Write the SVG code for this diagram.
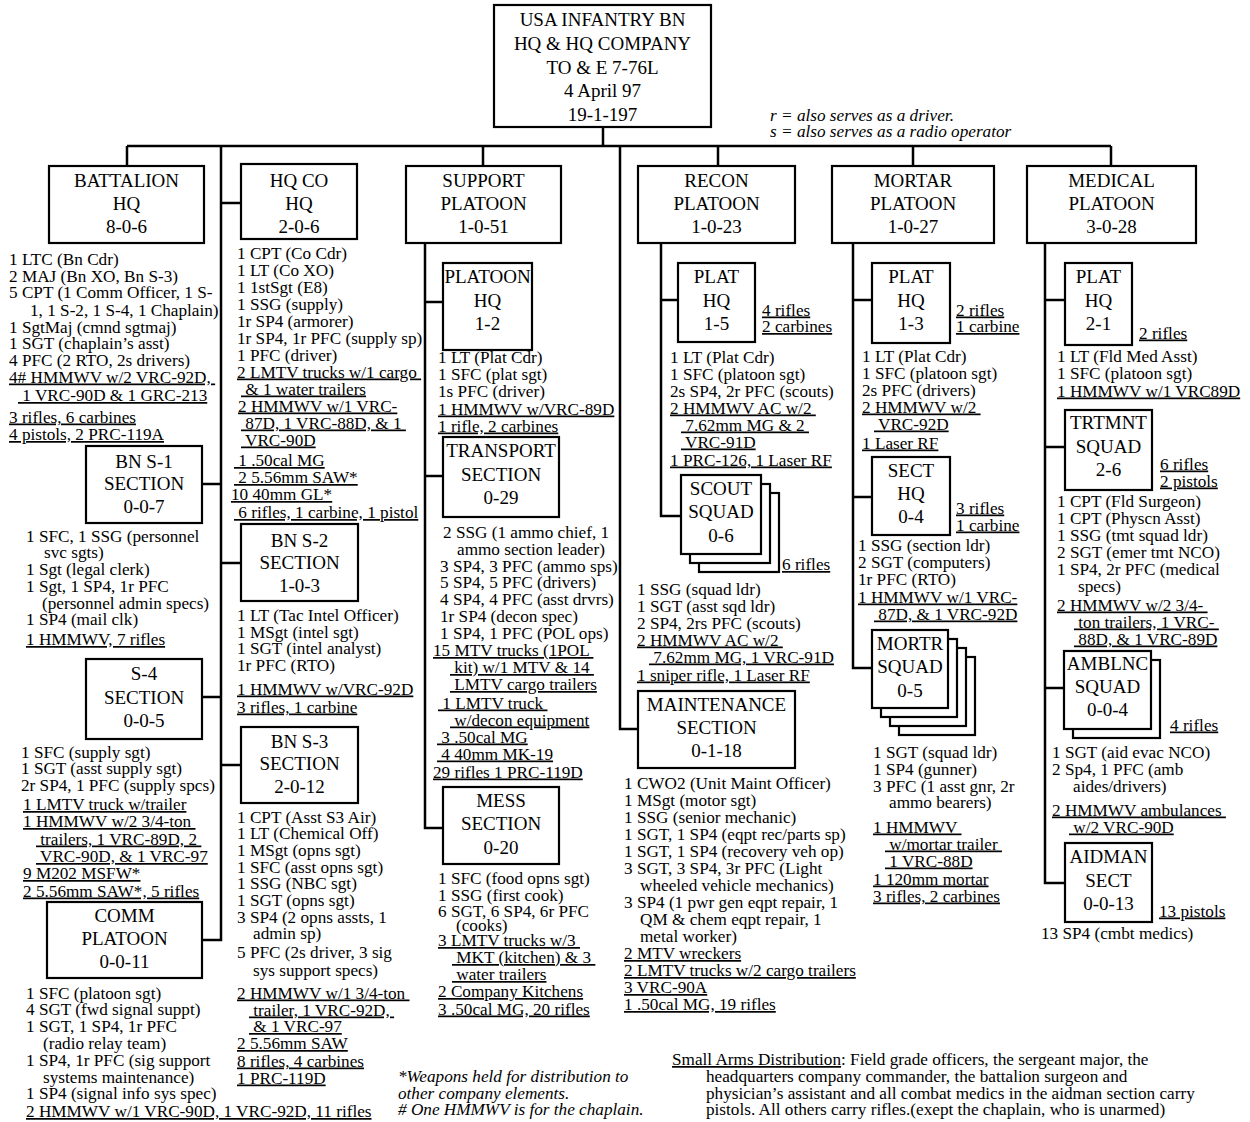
<svg xmlns="http://www.w3.org/2000/svg" width="1250" height="1122" viewBox="0 0 1250 1122">
<style>
text{font-family:"Liberation Serif","Times New Roman",serif;fill:#000}
.t{font-size:19px;text-anchor:middle}
.b{font-size:17.2px}
.u{text-decoration:underline}
.p{white-space:pre}
.i{font-size:17.2px;font-style:italic}
.n{font-size:17.2px}
.box{fill:#fff;stroke:#000;stroke-width:2.2}
.ln{fill:none;stroke:#000;stroke-width:2.5}
</style>
<rect width="1250" height="1122" fill="#fff"/>
<g id="connectors" class="ln">
<path d="M603 127V146M127 146H1111M127 146V166M221 146V940H202M221 203H241M202 484H221M221 563H241M202 697H221M221 765H241"/>
<path d="M483 146V166M425 243V828H443M425 302H443M425 476H443"/>
<path d="M620 146V729H638M718 146V166M661 243V516H681M661 300H678"/>
<path d="M913 146V166M853 243V668H872M853 300H872M853 497H872"/>
<path d="M1111 146V166M1045 243V883H1065M1045 300H1065M1045 447H1065M1045 688H1064"/>
</g>
<g id="top">
<rect class="box" x="494" y="5" width="217" height="122"/>
<text class="t" x="602.5" y="26">USA INFANTRY BN</text>
<text class="t" x="602.5" y="50">HQ &amp; HQ COMPANY</text>
<text class="t" x="602.5" y="73.5">TO &amp; E 7-76L</text>
<text class="t" x="602.5" y="97">4 April 97</text>
<text class="t" x="602.5" y="120.5">19-1-197</text>
</g>
<g id="legend">
<text class="i" x="770" y="121">r = also serves as a driver.</text>
<text class="i" x="770" y="137">s = also serves as a radio operator</text>
</g>
<g id="bn-hq">
<rect class="box" x="49" y="166" width="155" height="77"/>
<text class="t" x="126.5" y="187">BATTALION</text>
<text class="t" x="126.5" y="210">HQ</text>
<text class="t" x="126.5" y="233">8-0-6</text>
<text class="b" x="9" y="265">1 LTC (Bn Cdr)</text>
<text class="b" x="9" y="281.5">2 MAJ (Bn XO, Bn S-3)</text>
<text class="b" x="9" y="298">5 CPT (1 Comm Officer, 1 S-</text>
<text class="b" x="30" y="316">1, 1 S-2, 1 S-4, 1 Chaplain)</text>
<text class="b" x="9" y="332.5">1 SgtMaj (cmnd sgtmaj)</text>
<text class="b" x="9" y="349">1 SGT (chaplain’s asst)</text>
<text class="b" x="9" y="365.5">4 PFC (2 RTO, 2s drivers)</text>
<text class="b u p" x="9" y="382.5">4# HMMWV w/2 VRC-92D, </text>
<text class="b u p" x="18" y="401"> 1 VRC-90D &amp; 1 GRC-213</text>
<text class="b u" x="9" y="422.5">3 rifles, 6 carbines</text>
<text class="b u" x="9" y="440">4 pistols, 2 PRC-119A</text>
</g>
<g id="bn-s1">
<rect class="box" x="86" y="446" width="116" height="77"/>
<text class="t" x="144" y="467.5">BN S-1</text>
<text class="t" x="144" y="490">SECTION</text>
<text class="t" x="144" y="513">0-0-7</text>
<text class="b" x="26" y="541.5">1 SFC, 1 SSG (personnel</text>
<text class="b" x="44" y="558">svc sgts)</text>
<text class="b" x="26" y="575">1 Sgt (legal clerk)</text>
<text class="b" x="26" y="591.5">1 Sgt, 1 SP4, 1r PFC</text>
<text class="b" x="42" y="608.5">(personnel admin specs)</text>
<text class="b" x="26" y="625">1 SP4 (mail clk)</text>
<text class="b u" x="26" y="645">1 HMMWV, 7 rifles</text>
</g>
<g id="s4">
<rect class="box" x="86" y="659" width="116" height="80"/>
<text class="t" x="144" y="680">S-4</text>
<text class="t" x="144" y="703.5">SECTION</text>
<text class="t" x="144" y="727">0-0-5</text>
<text class="b" x="21" y="757.5">1 SFC (supply sgt)</text>
<text class="b" x="21" y="774">1 SGT (asst supply sgt)</text>
<text class="b" x="21" y="790.5">2r SP4, 1 PFC (supply spcs)</text>
<text class="b u" x="23" y="810">1 LMTV truck w/trailer</text>
<text class="b u p" x="23" y="827">1 HMMWV w/2 3/4-ton </text>
<text class="b u p" x="36" y="844.5"> trailers, 1 VRC-89D, 2 </text>
<text class="b u p" x="36" y="862"> VRC-90D, &amp; 1 VRC-97</text>
<text class="b u" x="23" y="879">9 M202 MSFW*</text>
<text class="b u" x="23" y="896.5">2 5.56mm SAW*, 5 rifles</text>
</g>
<g id="comm">
<rect class="box" x="47" y="902" width="155" height="76"/>
<text class="t" x="124.5" y="922">COMM</text>
<text class="t" x="124.5" y="944.5">PLATOON</text>
<text class="t" x="124.5" y="968">0-0-11</text>
<text class="b" x="26" y="998.5">1 SFC (platoon sgt)</text>
<text class="b" x="26" y="1015.3">4 SGT (fwd signal suppt)</text>
<text class="b" x="26" y="1032.1">1 SGT, 1 SP4, 1r PFC</text>
<text class="b" x="43" y="1048.9">(radio relay team)</text>
<text class="b" x="26" y="1065.7">1 SP4, 1r PFC (sig support</text>
<text class="b" x="43" y="1082.5">systems maintenance)</text>
<text class="b" x="26" y="1099.3">1 SP4 (signal info sys spec)</text>
<text class="b u" x="26" y="1117">2 HMMWV w/1 VRC-90D, 1 VRC-92D, 11 rifles</text>
</g>
<g id="hqco">
<rect class="box" x="241" y="164" width="116" height="75"/>
<text class="t" x="299" y="187">HQ CO</text>
<text class="t" x="299" y="209.5">HQ</text>
<text class="t" x="299" y="233">2-0-6</text>
<text class="b" x="237" y="258.5">1 CPT (Co Cdr)</text>
<text class="b" x="237" y="275.5">1 LT (Co XO)</text>
<text class="b" x="237" y="292.5">1 1stSgt (E8)</text>
<text class="b" x="237" y="309.5">1 SSG (supply)</text>
<text class="b" x="237" y="326.5">1r SP4 (armorer)</text>
<text class="b" x="237" y="343.5">1r SP4, 1r PFC (supply sp)</text>
<text class="b" x="237" y="360.5">1 PFC (driver)</text>
<text class="b u p" x="237" y="377.5">2 LMTV trucks w/1 cargo </text>
<text class="b u p" x="241" y="394.5"> &amp; 1 water trailers</text>
<text class="b u" x="238" y="411.5">2 HMMWV w/1 VRC-</text>
<text class="b u p" x="241" y="428.5"> 87D, 1 VRC-88D, &amp; 1 </text>
<text class="b u p" x="241" y="445.5"> VRC-90D</text>
<text class="b u p" x="234" y="466"> 1 .50cal MG</text>
<text class="b u p" x="234" y="483"> 2 5.56mm SAW*</text>
<text class="b u" x="231" y="500">10 40mm GL*</text>
<text class="b u p" x="234" y="518"> 6 rifles, 1 carbine, 1 pistol</text>
</g>
<g id="bn-s2">
<rect class="box" x="241" y="524" width="117" height="77"/>
<text class="t" x="299.5" y="546.5">BN S-2</text>
<text class="t" x="299.5" y="569">SECTION</text>
<text class="t" x="299.5" y="592">1-0-3</text>
<text class="b" x="237" y="620.5">1 LT (Tac Intel Officer)</text>
<text class="b" x="237" y="637.5">1 MSgt (intel sgt)</text>
<text class="b" x="237" y="654">1 SGT (intel analyst)</text>
<text class="b" x="237" y="671">1r PFC (RTO)</text>
<text class="b u" x="237" y="694.5">1 HMMWV w/VRC-92D</text>
<text class="b u" x="237" y="712.5">3 rifles, 1 carbine</text>
</g>
<g id="bn-s3">
<rect class="box" x="241" y="727" width="117" height="76"/>
<text class="t" x="299.5" y="747.5">BN S-3</text>
<text class="t" x="299.5" y="769.5">SECTION</text>
<text class="t" x="299.5" y="792.5">2-0-12</text>
<text class="b" x="237" y="822.5">1 CPT (Asst S3 Air)</text>
<text class="b" x="237" y="839">1 LT (Chemical Off)</text>
<text class="b" x="237" y="856">1 MSgt (opns sgt)</text>
<text class="b" x="237" y="872.5">1 SFC (asst opns sgt)</text>
<text class="b" x="237" y="889">1 SSG (NBC sgt)</text>
<text class="b" x="237" y="906">1 SGT (opns sgt)</text>
<text class="b" x="237" y="922.5">3 SP4 (2 opns assts, 1</text>
<text class="b" x="253" y="939">admin sp)</text>
<text class="b" x="237" y="958">5 PFC (2s driver, 3 sig</text>
<text class="b" x="253" y="975.5">sys support specs)</text>
<text class="b u p" x="237" y="998.5">2 HMMWV w/1 3/4-ton </text>
<text class="b u p" x="249" y="1015.5"> trailer, 1 VRC-92D, </text>
<text class="b u p" x="249" y="1032"> &amp; 1 VRC-97</text>
<text class="b u" x="237" y="1049">2 5.56mm SAW</text>
<text class="b u" x="237" y="1066.5">8 rifles, 4 carbines</text>
<text class="b u" x="237" y="1083.5">1 PRC-119D</text>
</g>
<g id="footnote">
<text class="i" x="398" y="1082">*Weapons held for distribution to</text>
<text class="i" x="398" y="1098.5">other company elements.</text>
<text class="i" x="398" y="1115"># One HMMWV is for the chaplain.</text>
</g>
<g id="support">
<rect class="box" x="406" y="166" width="155" height="77"/>
<text class="t" x="483.5" y="187">SUPPORT</text>
<text class="t" x="483.5" y="210">PLATOON</text>
<text class="t" x="483.5" y="233">1-0-51</text>
</g>
<g id="sup-hq">
<rect class="box" x="443" y="263" width="89" height="87"/>
<text class="t" x="487.5" y="282.5">PLATOON</text>
<text class="t" x="487.5" y="306.5">HQ</text>
<text class="t" x="487.5" y="329.5">1-2</text>
<text class="b" x="438" y="362.5">1 LT (Plat Cdr)</text>
<text class="b" x="438" y="379.5">1 SFC (plat sgt)</text>
<text class="b" x="438" y="396.5">1s PFC (driver)</text>
<text class="b u" x="438" y="414.5">1 HMMWV w/VRC-89D</text>
<text class="b u" x="438" y="431.5">1 rifle, 2 carbines</text>
</g>
<g id="transport">
<rect class="box" x="443" y="437" width="116" height="80"/>
<text class="t" x="501" y="456.5">TRANSPORT</text>
<text class="t" x="501" y="480.5">SECTION</text>
<text class="t" x="501" y="503.5">0-29</text>
<text class="b" x="443" y="537.5">2 SSG (1 ammo chief, 1</text>
<text class="b" x="457" y="554.5">ammo section leader)</text>
<text class="b" x="440" y="571.5">3 SP4, 3 PFC (ammo sps)</text>
<text class="b" x="440" y="588">5 SP4, 5 PFC (drivers)</text>
<text class="b" x="440" y="605">4 SP4, 4 PFC (asst drvrs)</text>
<text class="b" x="440" y="621.5">1r SP4 (decon spec)</text>
<text class="b" x="440" y="638.5">1 SP4, 1 PFC (POL ops)</text>
<text class="b u p" x="433" y="656">15 MTV trucks (1POL </text>
<text class="b u p" x="450" y="673"> kit) w/1 MTV &amp; 14 </text>
<text class="b u p" x="450" y="690"> LMTV cargo trailers</text>
<text class="b u p" x="438" y="708.5"> 1 LMTV truck </text>
<text class="b u p" x="450" y="725.5"> w/decon equipment</text>
<text class="b u p" x="437" y="742.5"> 3 .50cal MG</text>
<text class="b u p" x="437" y="759.5"> 4 40mm MK-19</text>
<text class="b u" x="433" y="777.5">29 rifles 1 PRC-119D</text>
</g>
<g id="mess">
<rect class="box" x="443" y="787" width="116" height="77"/>
<text class="t" x="501" y="806.5">MESS</text>
<text class="t" x="501" y="830">SECTION</text>
<text class="t" x="501" y="853.5">0-20</text>
<text class="b" x="438" y="884">1 SFC (food opns sgt)</text>
<text class="b" x="438" y="900.5">1 SSG (first cook)</text>
<text class="b" x="438" y="917">6 SGT, 6 SP4, 6r PFC</text>
<text class="b" x="456" y="931">(cooks)</text>
<text class="b u p" x="438" y="946">3 LMTV trucks w/3 </text>
<text class="b u p" x="452" y="963"> MKT (kitchen) &amp; 3 </text>
<text class="b u p" x="452" y="980"> water trailers</text>
<text class="b u" x="438" y="997">2 Company Kitchens</text>
<text class="b u" x="438" y="1014.5">3 .50cal MG, 20 rifles</text>
</g>
<g id="recon">
<rect class="box" x="638" y="166" width="157" height="77"/>
<text class="t" x="716.5" y="187">RECON</text>
<text class="t" x="716.5" y="210">PLATOON</text>
<text class="t" x="716.5" y="233">1-0-23</text>
</g>
<g id="recon-hq">
<rect class="box" x="678" y="263" width="77" height="79"/>
<text class="t" x="716.5" y="282.5">PLAT</text>
<text class="t" x="716.5" y="306.5">HQ</text>
<text class="t" x="716.5" y="329.5">1-5</text>
<text class="b u" x="762" y="315.5">4 rifles</text>
<text class="b u" x="762" y="332">2 carbines</text>
<text class="b" x="670" y="362.5">1 LT (Plat Cdr)</text>
<text class="b" x="670" y="379.5">1 SFC (platoon sgt)</text>
<text class="b" x="670" y="396.5">2s SP4, 2r PFC (scouts)</text>
<text class="b u p" x="670" y="413.5">2 HMMWV AC w/2 </text>
<text class="b u p" x="681" y="430.5"> 7.62mm MG &amp; 2 </text>
<text class="b u p" x="681" y="447.5"> VRC-91D</text>
<text class="b u" x="670" y="465.5">1 PRC-126, 1 Laser RF</text>
</g>
<g id="scout">
<rect class="box" x="699" y="493" width="80" height="79"/>
<rect class="box" x="690" y="484" width="80" height="79"/>
<rect class="box" x="681" y="475" width="80" height="79"/>
<text class="t" x="721" y="494.5">SCOUT</text>
<text class="t" x="721" y="518">SQUAD</text>
<text class="t" x="721" y="541.5">0-6</text>
<text class="b u" x="782" y="570">6 rifles</text>
<text class="b" x="637" y="594.5">1 SSG (squad ldr)</text>
<text class="b" x="637" y="611.5">1 SGT (asst sqd ldr)</text>
<text class="b" x="637" y="628.5">2 SP4, 2rs PFC (scouts)</text>
<text class="b u p" x="637" y="645.5">2 HMMWV AC w/2 </text>
<text class="b u p" x="649" y="662.5"> 7.62mm MG, 1 VRC-91D</text>
<text class="b u" x="637" y="680.5">1 sniper rifle, 1 Laser RF</text>
</g>
<g id="maint">
<rect class="box" x="638" y="691" width="157" height="77"/>
<text class="t" x="716.5" y="710.5">MAINTENANCE</text>
<text class="t" x="716.5" y="733.5">SECTION</text>
<text class="t" x="716.5" y="757">0-1-18</text>
<text class="b" x="624" y="788.5">1 CWO2 (Unit Maint Officer)</text>
<text class="b" x="624" y="805.5">1 MSgt (motor sgt)</text>
<text class="b" x="624" y="822.5">1 SSG (senior mechanic)</text>
<text class="b" x="624" y="839.5">1 SGT, 1 SP4 (eqpt rec/parts sp)</text>
<text class="b" x="624" y="856.5">1 SGT, 1 SP4 (recovery veh op)</text>
<text class="b" x="624" y="873.5">3 SGT, 3 SP4, 3r PFC (Light</text>
<text class="b" x="640" y="890.5">wheeled vehicle mechanics)</text>
<text class="b" x="624" y="907.5">3 SP4 (1 pwr gen eqpt repair, 1</text>
<text class="b" x="640" y="924.5">QM &amp; chem eqpt repair, 1</text>
<text class="b" x="640" y="941.5">metal worker)</text>
<text class="b u" x="624" y="959">2 MTV wreckers</text>
<text class="b u" x="624" y="976">2 LMTV trucks w/2 cargo trailers</text>
<text class="b u" x="624" y="993">3 VRC-90A</text>
<text class="b u" x="624" y="1010">1 .50cal MG, 19 rifles</text>
</g>
<g id="smallarms">
<text class="n" x="672" y="1065"><tspan text-decoration="underline">Small Arms Distribution</tspan>: Field grade officers, the sergeant major, the</text>
<text class="n" x="706" y="1082">headquarters company commander, the battalion surgeon and</text>
<text class="n" x="706" y="1098.5">physician’s assistant and all combat medics in the aidman section carry</text>
<text class="n" x="706" y="1115">pistols. All others carry rifles.(exept the chaplain, who is unarmed)</text>
</g>
<g id="mortar">
<rect class="box" x="832" y="166" width="162" height="77"/>
<text class="t" x="913" y="187">MORTAR</text>
<text class="t" x="913" y="210">PLATOON</text>
<text class="t" x="913" y="233">1-0-27</text>
</g>
<g id="mortar-hq">
<rect class="box" x="872" y="263" width="78" height="80"/>
<text class="t" x="911" y="282.5">PLAT</text>
<text class="t" x="911" y="306.5">HQ</text>
<text class="t" x="911" y="329.5">1-3</text>
<text class="b u" x="956" y="315.5">2 rifles</text>
<text class="b u" x="956" y="332">1 carbine</text>
<text class="b" x="862" y="361.5">1 LT (Plat Cdr)</text>
<text class="b" x="862" y="378.5">1 SFC (platoon sgt)</text>
<text class="b" x="862" y="395.5">2s PFC (drivers)</text>
<text class="b u p" x="862" y="412.5">2 HMMWV w/2 </text>
<text class="b u p" x="874" y="429.5"> VRC-92D</text>
<text class="b u" x="862" y="448.5">1 Laser RF</text>
</g>
<g id="sect-hq">
<rect class="box" x="872" y="457" width="78" height="78"/>
<text class="t" x="911" y="476.5">SECT</text>
<text class="t" x="911" y="499.5">HQ</text>
<text class="t" x="911" y="523">0-4</text>
<text class="b u" x="956" y="513.5">3 rifles</text>
<text class="b u" x="956" y="530.5">1 carbine</text>
<text class="b" x="858" y="550.5">1 SSG (section ldr)</text>
<text class="b" x="858" y="567.5">2 SGT (computers)</text>
<text class="b" x="858" y="584.5">1r PFC (RTO)</text>
<text class="b u" x="858" y="602.5">1 HMMWV w/1 VRC-</text>
<text class="b u p" x="874" y="619.5"> 87D, &amp; 1 VRC-92D</text>
</g>
<g id="mortr">
<rect class="box" x="899" y="657" width="76" height="78"/>
<rect class="box" x="890" y="648" width="76" height="78"/>
<rect class="box" x="881" y="639" width="76" height="78"/>
<rect class="box" x="872" y="630" width="76" height="78"/>
<text class="t" x="910" y="649.5">MORTR</text>
<text class="t" x="910" y="673">SQUAD</text>
<text class="t" x="910" y="696.5">0-5</text>
<text class="b" x="873" y="757.5">1 SGT (squad ldr)</text>
<text class="b" x="873" y="774.5">1 SP4 (gunner)</text>
<text class="b" x="873" y="791.5">3 PFC (1 asst gnr, 2r</text>
<text class="b" x="889" y="807.5">ammo bearers)</text>
<text class="b u p" x="873" y="832.5">1 HMMWV </text>
<text class="b u p" x="885" y="849.5"> w/mortar trailer </text>
<text class="b u p" x="885" y="866.5"> 1 VRC-88D</text>
<text class="b u" x="873" y="884.5">1 120mm mortar</text>
<text class="b u" x="873" y="901.5">3 rifles, 2 carbines</text>
</g>
<g id="medical">
<rect class="box" x="1027" y="166" width="169" height="77"/>
<text class="t" x="1111.5" y="187">MEDICAL</text>
<text class="t" x="1111.5" y="210">PLATOON</text>
<text class="t" x="1111.5" y="233">3-0-28</text>
</g>
<g id="med-hq">
<rect class="box" x="1065" y="263" width="67" height="82"/>
<text class="t" x="1098.5" y="282.5">PLAT</text>
<text class="t" x="1098.5" y="306.5">HQ</text>
<text class="t" x="1098.5" y="329.5">2-1</text>
<text class="b u" x="1139" y="338.5">2 rifles</text>
<text class="b" x="1057" y="361.5">1 LT (Fld Med Asst)</text>
<text class="b" x="1057" y="378.5">1 SFC (platoon sgt)</text>
<text class="b u" x="1057" y="396.5">1 HMMWV w/1 VRC89D</text>
</g>
<g id="trtmnt">
<rect class="box" x="1065" y="410" width="87" height="80"/>
<text class="t" x="1108.5" y="428.5">TRTMNT</text>
<text class="t" x="1108.5" y="452.5">SQUAD</text>
<text class="t" x="1108.5" y="475.5">2-6</text>
<text class="b u" x="1160" y="469.5">6 rifles</text>
<text class="b u" x="1160" y="486.5">2 pistols</text>
<text class="b" x="1057" y="506.5">1 CPT (Fld Surgeon)</text>
<text class="b" x="1057" y="523.5">1 CPT (Physcn Asst)</text>
<text class="b" x="1057" y="540.5">1 SSG (tmt squad ldr)</text>
<text class="b" x="1057" y="557.5">2 SGT (emer tmt NCO)</text>
<text class="b" x="1057" y="574.5">1 SP4, 2r PFC (medical</text>
<text class="b" x="1078" y="591.5">specs)</text>
<text class="b u p" x="1057" y="610.5">2 HMMWV w/2 3/4- </text>
<text class="b u p" x="1074" y="627.5"> ton trailers, 1 VRC- </text>
<text class="b u p" x="1074" y="644.5"> 88D, &amp; 1 VRC-89D</text>
</g>
<g id="amblnc">
<rect class="box" x="1073" y="660" width="87" height="78"/>
<rect class="box" x="1064" y="651" width="87" height="78"/>
<text class="t" x="1107.5" y="669.5">AMBLNC</text>
<text class="t" x="1107.5" y="692.5">SQUAD</text>
<text class="t" x="1107.5" y="715.5">0-0-4</text>
<text class="b u" x="1170" y="730.5">4 rifles</text>
<text class="b" x="1052" y="757.5">1 SGT (aid evac NCO)</text>
<text class="b" x="1052" y="774.5">2 Sp4, 1 PFC (amb</text>
<text class="b" x="1073" y="791.5">aides/drivers)</text>
<text class="b u p" x="1052" y="815.5">2 HMMWV ambulances </text>
<text class="b u p" x="1069" y="832.5"> w/2 VRC-90D</text>
</g>
<g id="aidman">
<rect class="box" x="1065" y="843" width="87" height="79"/>
<text class="t" x="1108.5" y="862.5">AIDMAN</text>
<text class="t" x="1108.5" y="886.5">SECT</text>
<text class="t" x="1108.5" y="909.5">0-0-13</text>
<text class="b u" x="1159" y="916.5">13 pistols</text>
<text class="b" x="1041" y="938.5">13 SP4 (cmbt medics)</text>
</g>
</svg>
